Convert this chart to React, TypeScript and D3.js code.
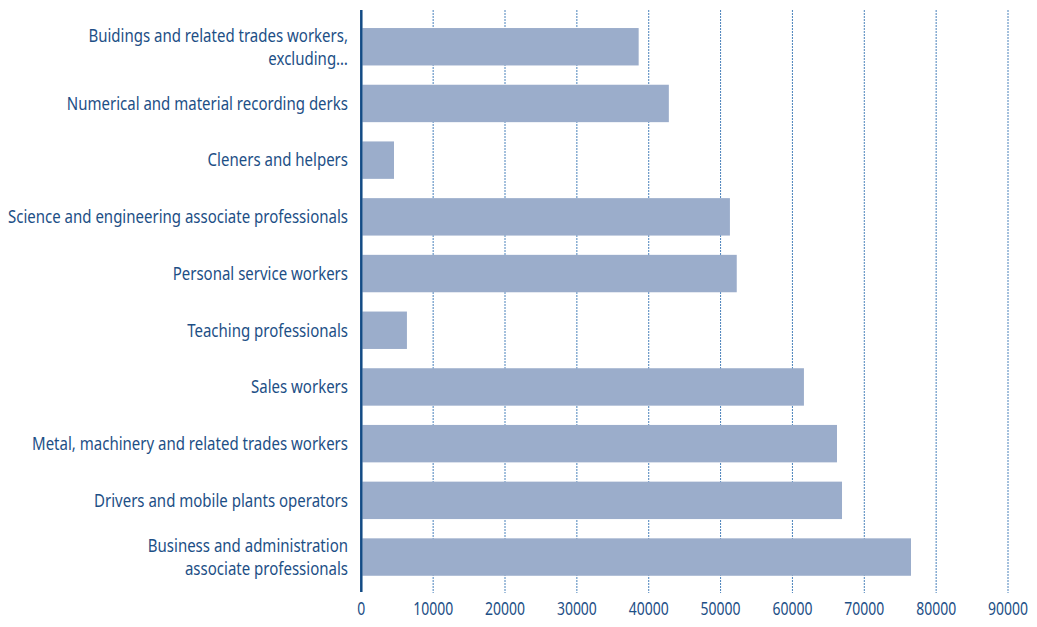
import React, { useLayoutEffect, useRef, useState } from "react";
import * as d3 from "d3";

const categories: string[][] = [
  ["Buidings and related trades workers,", "excluding…"],
  ["Numerical and material recording derks"],
  ["Cleners and helpers"],
  ["Science and engineering associate professionals"],
  ["Personal service workers"],
  ["Teaching professionals"],
  ["Sales workers"],
  ["Metal, machinery and related trades workers"],
  ["Drivers and mobile plants operators"],
  ["Business and administration", "associate professionals"],
];
const values: number[] = [38600, 42800, 4550, 51300, 52250, 6350, 61600, 66200, 66900, 76500];
const ticks: number[] = [0, 10000, 20000, 30000, 40000, 50000, 60000, 70000, 80000, 90000];

const W = 1037;
const H = 627;
const FONT = "'Noto Sans', sans-serif";
const TEXT = "#1d4f86";

export default function App() {
  const probe = useRef<SVGTextElement>(null);
  const [sx, setSx] = useState(0.85);
  useLayoutEffect(() => {
    if (probe.current) {
      const len = probe.current.getComputedTextLength();
      if (len > 0) setSx(340 / len);
    }
  }, []);
  const x = d3.scaleLinear().domain([0, 90000]).range([361.3, 1008]);
  const y = d3
    .scaleBand<number>()
    .domain(d3.range(categories.length))
    .range([18.4, 585.4])
    .paddingInner(0.34)
    .paddingOuter(0.17);
  const top = 10;
  const bottom = 593;
  return (
    <svg
      width={W}
      height={H}
      style={{ position: "absolute", left: 0, top: 0, background: "#fff" }}
    >
      {ticks.slice(1).map((t) => (
        <line
          key={"g" + t}
          x1={x(t)}
          x2={x(t)}
          y1={top}
          y2={bottom}
          stroke="#4a82bb"
          strokeWidth={1}
          strokeDasharray="2,1"
        />
      ))}
      {values.map((v, i) => (
        <rect
          key={"b" + i}
          x={x(0) + 1}
          y={y(i)}
          width={x(v) - x(0) - 1}
          height={y.bandwidth()}
          fill="#9badcb"
        />
      ))}
      <line x1={x(0)} x2={x(0)} y1={top} y2={592} stroke="#134b85" strokeWidth={2.5} />
      <g transform={`translate(348,0) scale(${sx},1)`}>
        {categories.map((lines, i) => {
          const cy = (y(i) as number) + y.bandwidth() / 2;
          const lh = 23;
          const start = cy - ((lines.length - 1) * lh) / 2;
          return (
            <text
              key={"l" + i}
              ref={i === 3 ? probe : undefined}
              textAnchor="end"
              fontFamily={FONT}
              fontSize={18}
              fill={TEXT}
            >
              {lines.map((ln, j) => (
                <tspan key={j} x={0} y={start + j * lh} dy="0.35em">
                  {ln}
                </tspan>
              ))}
            </text>
          );
        })}
      </g>
      {ticks.map((t) => (
        <text
          key={"t" + t}
          transform={`translate(${x(t)},609) scale(${sx * 0.93},1)`}
          dy="0.35em"
          textAnchor="middle"
          fontFamily={FONT}
          fontSize={18}
          fill={TEXT}
        >
          {t}
        </text>
      ))}
    </svg>
  );
}
